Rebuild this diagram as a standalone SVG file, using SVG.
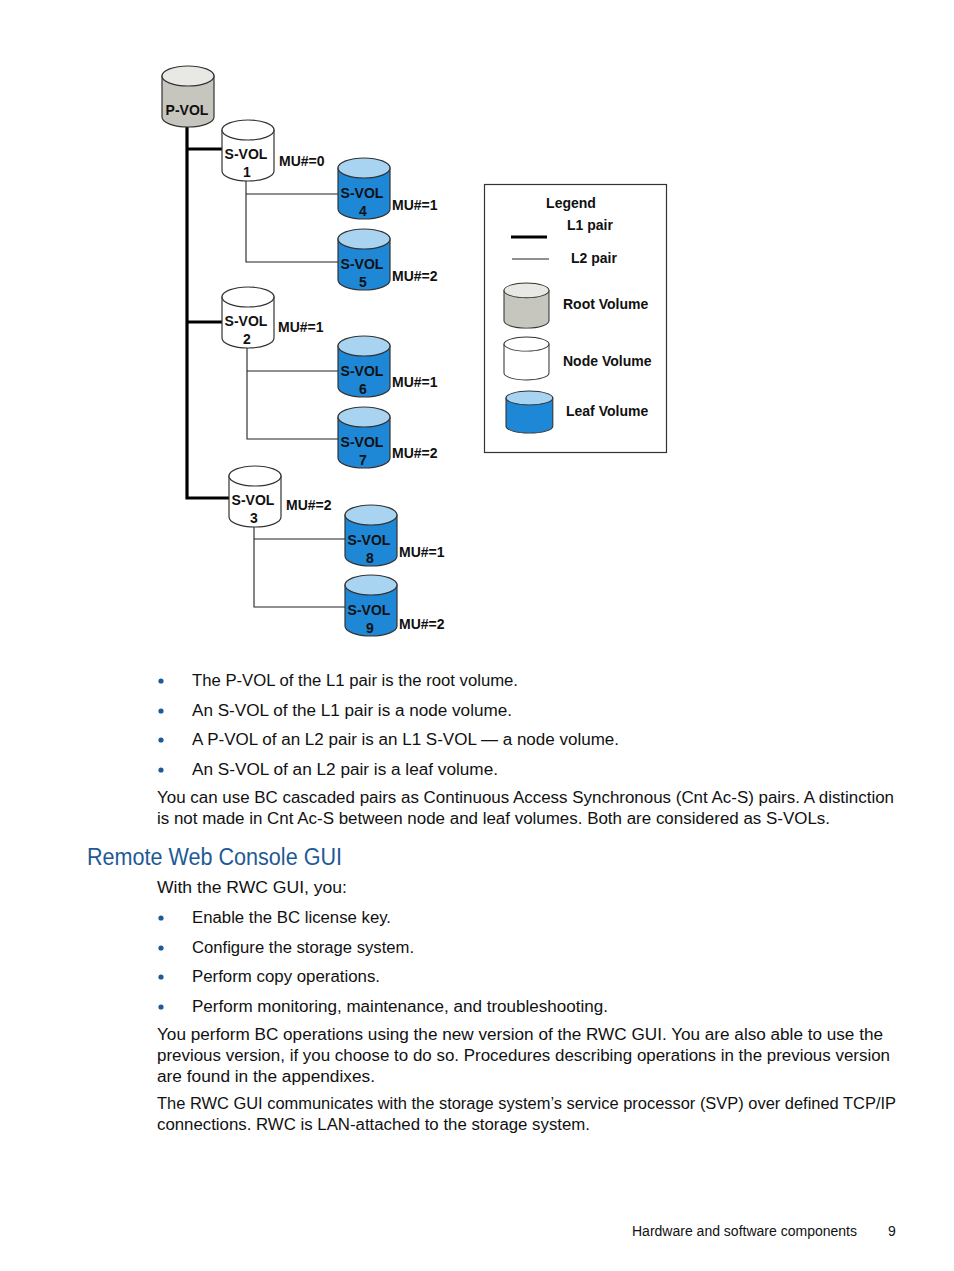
<svg xmlns="http://www.w3.org/2000/svg" xmlns:xlink="http://www.w3.org/1999/xlink" width="954" height="1271" viewBox="0 0 954 1271">
<style>
.lbl{font-family:"Liberation Sans",Arial,sans-serif;font-weight:bold;font-size:14px;fill:#111}
.mid{text-anchor:middle}
.cyl{stroke:#333;stroke-width:1.2}
.root{fill:#c6c6be}
.roottop{fill:#e8e8e4}
.node{fill:#fff}
.leaf{fill:#1e87d6}
.leaftop{fill:#a9d4f1}
.thick{fill:none;stroke:#000;stroke-width:3.2}
.thin{fill:none;stroke:#222;stroke-width:1.1}
.body{font-family:"Liberation Sans",Arial,sans-serif;font-size:16px;fill:#111}
.head{font-family:"Liberation Sans",Arial,sans-serif;font-size:23px;fill:#1e5a96}
.foot{font-family:"Liberation Sans",Arial,sans-serif;font-size:14px;fill:#111}
.dot{fill:#1e5a96}
</style>
<defs>
<path id="cb" d="M0,10 V51 A26,10 0 0 0 52,51 V10 Z"/>
<ellipse id="ct" cx="26" cy="10" rx="26" ry="10"/>
</defs>

<g id="connectors">
<path class="thick" d="M187,126 V498 H229"/>
<path class="thick" d="M187,149 H222"/>
<path class="thick" d="M187,322 H222"/>
<path class="thin" d="M246,181 V262 H338"/>
<path class="thin" d="M246,194 H338"/>
<path class="thin" d="M247,348 V439 H338"/>
<path class="thin" d="M247,371 H338"/>
<path class="thin" d="M254,526 V607 H345"/>
<path class="thin" d="M254,539 H345"/>
</g>

<g id="pvol" transform="translate(162,66)">
<use href="#cb" class="cyl root"/><use href="#ct" class="cyl roottop"/>
<text class="lbl mid" x="25" y="49">P-VOL</text>
</g>

<g id="svol1" transform="translate(222,120)">
<use href="#cb" class="cyl node"/><use href="#ct" class="cyl node"/>
<text class="lbl mid" x="24" y="39">S-VOL</text><text class="lbl mid" x="25" y="57">1</text>
</g>
<text class="lbl" x="279" y="166">MU#=0</text>

<g id="svol4" transform="translate(338,158)">
<use href="#cb" class="cyl leaf"/><use href="#ct" class="cyl leaftop"/>
<text class="lbl mid" x="24" y="40">S-VOL</text><text class="lbl mid" x="25" y="58">4</text>
</g>
<text class="lbl" x="392" y="210">MU#=1</text>

<g id="svol5" transform="translate(338,229)">
<use href="#cb" class="cyl leaf"/><use href="#ct" class="cyl leaftop"/>
<text class="lbl mid" x="24" y="40">S-VOL</text><text class="lbl mid" x="25" y="58">5</text>
</g>
<text class="lbl" x="392" y="281">MU#=2</text>

<g id="svol2" transform="translate(222,287)">
<use href="#cb" class="cyl node"/><use href="#ct" class="cyl node"/>
<text class="lbl mid" x="24" y="39">S-VOL</text><text class="lbl mid" x="25" y="57">2</text>
</g>
<text class="lbl" x="278" y="332">MU#=1</text>

<g id="svol6" transform="translate(338,336)">
<use href="#cb" class="cyl leaf"/><use href="#ct" class="cyl leaftop"/>
<text class="lbl mid" x="24" y="40">S-VOL</text><text class="lbl mid" x="25" y="58">6</text>
</g>
<text class="lbl" x="392" y="387">MU#=1</text>

<g id="svol7" transform="translate(338,407)">
<use href="#cb" class="cyl leaf"/><use href="#ct" class="cyl leaftop"/>
<text class="lbl mid" x="24" y="40">S-VOL</text><text class="lbl mid" x="25" y="58">7</text>
</g>
<text class="lbl" x="392" y="458">MU#=2</text>

<g id="svol3" transform="translate(229,466)">
<use href="#cb" class="cyl node"/><use href="#ct" class="cyl node"/>
<text class="lbl mid" x="24" y="39">S-VOL</text><text class="lbl mid" x="25" y="57">3</text>
</g>
<text class="lbl" x="286" y="510">MU#=2</text>

<g id="svol8" transform="translate(345,505)">
<use href="#cb" class="cyl leaf"/><use href="#ct" class="cyl leaftop"/>
<text class="lbl mid" x="24" y="40">S-VOL</text><text class="lbl mid" x="25" y="58">8</text>
</g>
<text class="lbl" x="399" y="557">MU#=1</text>

<g id="svol9" transform="translate(345,575)">
<use href="#cb" class="cyl leaf"/><use href="#ct" class="cyl leaftop"/>
<text class="lbl mid" x="24" y="40">S-VOL</text><text class="lbl mid" x="25" y="58">9</text>
</g>
<text class="lbl" x="399" y="629">MU#=2</text>

<g id="legend">
<rect x="484.5" y="184.5" width="182" height="268" fill="#fff" stroke="#333" stroke-width="1.2"/>
<text class="lbl mid" x="571" y="208">Legend</text>
<text class="lbl" x="567" y="230">L1 pair</text>
<path class="thick" d="M511,237 H547"/>
<text class="lbl" x="571" y="263">L2 pair</text>
<path class="thin" d="M512,259 H549"/>
<g transform="translate(504,283) scale(0.865,0.74)">
<use href="#cb" class="cyl root" stroke-width="1.5"/><use href="#ct" class="cyl roottop" stroke-width="1.5"/>
</g>
<text class="lbl" x="563" y="309">Root Volume</text>
<g transform="translate(504,337) scale(0.865,0.705)">
<use href="#cb" class="cyl node" stroke-width="1.5"/><use href="#ct" class="cyl node" stroke-width="1.5"/>
</g>
<text class="lbl" x="563" y="366">Node Volume</text>
<g transform="translate(506,391) scale(0.9,0.69)">
<use href="#cb" class="cyl leaf" stroke-width="1.5"/><use href="#ct" class="cyl leaftop" stroke-width="1.5"/>
</g>
<text class="lbl" x="566" y="416">Leaf Volume</text>
</g>

<g id="text1">
<circle class="dot" cx="161" cy="681" r="2.6"/>
<text class="body" x="192" y="686" textLength="326" lengthAdjust="spacingAndGlyphs">The P-VOL of the L1 pair is the root volume.</text>
<circle class="dot" cx="161" cy="711" r="2.6"/>
<text class="body" x="192" y="716" textLength="320" lengthAdjust="spacingAndGlyphs">An S-VOL of the L1 pair is a node volume.</text>
<circle class="dot" cx="161" cy="740" r="2.6"/>
<text class="body" x="192" y="745" textLength="427" lengthAdjust="spacingAndGlyphs">A P-VOL of an L2 pair is an L1 S-VOL — a node volume.</text>
<circle class="dot" cx="161" cy="770" r="2.6"/>
<text class="body" x="192" y="775" textLength="306" lengthAdjust="spacingAndGlyphs">An S-VOL of an L2 pair is a leaf volume.</text>
<text class="body" x="157" y="803" textLength="737" lengthAdjust="spacingAndGlyphs">You can use BC cascaded pairs as Continuous Access Synchronous (Cnt Ac-S) pairs. A distinction</text>
<text class="body" x="157" y="824" textLength="673" lengthAdjust="spacingAndGlyphs">is not made in Cnt Ac-S between node and leaf volumes. Both are considered as S-VOLs.</text>
</g>

<text class="head" x="87" y="865" textLength="255" lengthAdjust="spacingAndGlyphs">Remote Web Console GUI</text>

<g id="text2">
<text class="body" x="157" y="893" textLength="190" lengthAdjust="spacingAndGlyphs">With the RWC GUI, you:</text>
<circle class="dot" cx="161" cy="918" r="2.6"/>
<text class="body" x="192" y="923" textLength="199" lengthAdjust="spacingAndGlyphs">Enable the BC license key.</text>
<circle class="dot" cx="161" cy="948" r="2.6"/>
<text class="body" x="192" y="953" textLength="222" lengthAdjust="spacingAndGlyphs">Configure the storage system.</text>
<circle class="dot" cx="161" cy="977" r="2.6"/>
<text class="body" x="192" y="982" textLength="188" lengthAdjust="spacingAndGlyphs">Perform copy operations.</text>
<circle class="dot" cx="161" cy="1007" r="2.6"/>
<text class="body" x="192" y="1012" textLength="416" lengthAdjust="spacingAndGlyphs">Perform monitoring, maintenance, and troubleshooting.</text>
<text class="body" x="157" y="1040" textLength="726" lengthAdjust="spacingAndGlyphs">You perform BC operations using the new version of the RWC GUI. You are also able to use the</text>
<text class="body" x="157" y="1061" textLength="733" lengthAdjust="spacingAndGlyphs">previous version, if you choose to do so. Procedures describing operations in the previous version</text>
<text class="body" x="157" y="1082" textLength="218" lengthAdjust="spacingAndGlyphs">are found in the appendixes.</text>
<text class="body" x="157" y="1109" textLength="739" lengthAdjust="spacingAndGlyphs">The RWC GUI communicates with the storage system’s service processor (SVP) over defined TCP/IP</text>
<text class="body" x="157" y="1130" textLength="433" lengthAdjust="spacingAndGlyphs">connections. RWC is LAN-attached to the storage system.</text>
</g>

<g id="footer">
<text class="foot" x="632" y="1236" textLength="225" lengthAdjust="spacingAndGlyphs">Hardware and software components</text>
<text class="foot" x="888" y="1236">9</text>
</g>
</svg>
